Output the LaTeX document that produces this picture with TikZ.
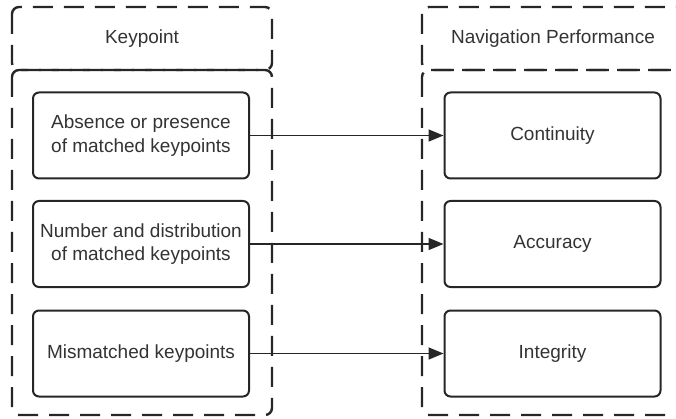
\documentclass[tikz,border=0pt]{standalone}
\usepackage{fontspec}
\setmainfont{Liberation Sans}
\usetikzlibrary{arrows.meta}
\begin{document}
\begin{tikzpicture}[x=1pt,y=-1pt,
  dashbox/.style={draw=black!85, line width=2.4pt, dash pattern=on 20pt off 11pt, rounded corners=7pt},
  itembox/.style={draw=black!85, line width=2pt, rounded corners=6pt, minimum width=216pt, minimum height=86pt, align=center, text=black!80, font=\fontsize{19}{23.5}\selectfont},
  hdr/.style={text=black!80, font=\fontsize{19}{23.5}\selectfont},
  conn/.style={draw=black!85, line width=1.6pt, -{Triangle[length=15pt,width=12pt]}}
]
\useasboundingbox (0,0) rectangle (676,419);
% containers
\draw[dashbox] (12,7) rectangle (272,70);
\draw[dashbox] (12,70) rectangle (272,415);
\draw[dashbox] (422,7) rectangle (690,70);
\draw[dashbox] (422,70) rectangle (690,415);
\node[hdr] (hk) at (142,39) {Keypoint};
\node[hdr] (hn) at (553,39) {Navigation Performance};
% left boxes
\node[itembox] (a1) at (141,135.5) {Absence or presence\\of matched keypoints};
\node[itembox] (a2) at (141,244) {Number and distribution\\of matched keypoints};
\node[itembox] (a3) at (141,353.5) {Mismatched keypoints};
% right boxes
\node[itembox] (b1) at (552.5,135.5) {Continuity};
\node[itembox] (b2) at (552.5,244) {Accuracy};
\node[itembox] (b3) at (552.5,353.5) {Integrity};
% connectors
\draw[conn] (a1) -- (b1);
\draw[conn] (a2) -- (b2);
\draw[conn] (a3) -- (b3);
\end{tikzpicture}
\end{document}
